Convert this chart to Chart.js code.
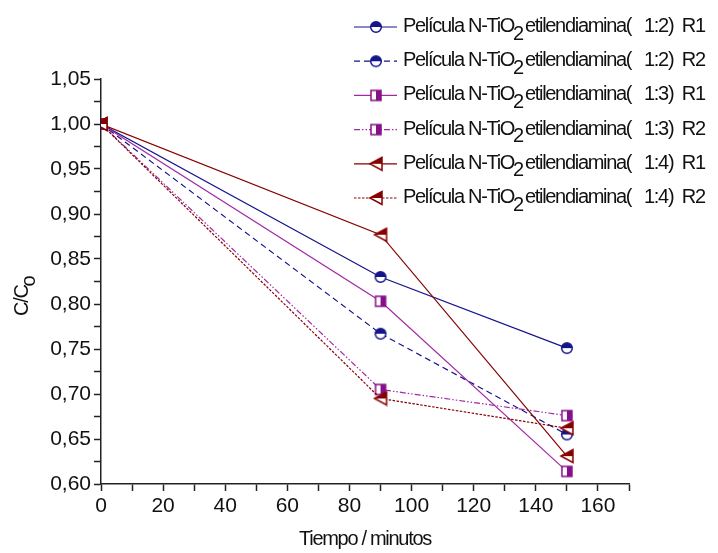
<!DOCTYPE html>
<html>
<head>
<meta charset="utf-8">
<script src="https://cdn.jsdelivr.net/npm/chart.js@4/dist/chart.umd.min.js"></script>
<style>
  body { margin: 0; background: #fff; }
</style>
</head>
<body>
<canvas id="myChart" width="718" height="553"></canvas>
<script>
// tiempo (minutos) y C/Co para cada película
var tiempo = [0, 90, 150];
var r12_R1 = [1.000, 0.830, 0.751];
var r12_R2 = [1.000, 0.767, 0.655];
var r13_R1 = [1.000, 0.803, 0.614];
var r13_R2 = [1.000, 0.705, 0.676];
var r14_R1 = [1.000, 0.877, 0.631];
var r14_R2 = [1.000, 0.695, 0.662];

var ratios = ['1:2', '1:2', '1:3', '1:3', '1:4', '1:4'];
var runs = ['R1', 'R2', 'R1', 'R2', 'R1', 'R2'];

var FONT = "'Liberation Sans', Arial, sans-serif";
var blue = '#14148c';
var purple = '#86108a';
var purpleLine = '#a02aa4';
var wine = '#860000';

// little half-filled markers, drawn once into canvases
function makeMarker(kind, color) {
    var c = document.createElement('canvas');
    c.width = 16;
    c.height = 16;
    var g = c.getContext('2d');
    g.lineWidth = 1.5;
    g.strokeStyle = color;
    g.fillStyle = '#fff';
    if (kind === 'circle') {
        g.beginPath();
        g.arc(8, 8, 5.3, 0, Math.PI * 2);
        g.fill();
        g.fillStyle = color;
        g.beginPath();
        g.arc(8, 8, 5.3, Math.PI, 0);
        g.closePath();
        g.fill();
        g.beginPath();
        g.arc(8, 8, 5.3, 0, Math.PI * 2);
        g.stroke();
    } else if (kind === 'square') {
        g.fillRect(3, 3, 10, 10);
        g.fillStyle = color;
        g.fillRect(8, 3, 5, 10);
        g.strokeRect(3, 3, 10, 10);
    } else {
        g.beginPath();
        g.moveTo(2, 8); g.lineTo(14, 1.5); g.lineTo(14, 14.5); g.closePath();
        g.fill();
        g.fillStyle = color;
        g.beginPath();
        g.moveTo(2, 8); g.lineTo(14, 1.5); g.lineTo(14, 8); g.closePath();
        g.fill();
        g.beginPath();
        g.moveTo(2, 8); g.lineTo(14, 1.5); g.lineTo(14, 14.5); g.closePath();
        g.stroke();
    }
    return c;
}

var mCircle = makeMarker('circle', blue);
var mSquare = makeMarker('square', purple);
var mTri = makeMarker('tri', wine);

function series(vals) {
    return tiempo.map(function (t, i) { return { x: t, y: vals[i] }; });
}

var dsList = [
    { data: series(r12_R1), color: blue, marker: mCircle, dash: [] },
    { data: series(r12_R2), color: blue, marker: mCircle, dash: [6, 4] },
    { data: series(r13_R1), color: purpleLine, marker: mSquare, dash: [] },
    { data: series(r13_R2), color: purpleLine, marker: mSquare, dash: [6, 2, 1.5, 2, 1.5, 2] },
    { data: series(r14_R1), color: wine, marker: mTri, dash: [] },
    { data: series(r14_R2), color: wine, marker: mTri, dash: [2.5, 1.5] }
];

var datasets = dsList.map(function (d, i) {
    return {
        data: d.data,
        borderColor: d.color,
        backgroundColor: d.color,
        borderWidth: 1.2,
        borderDash: d.dash,
        pointStyle: d.marker,
        pointRadius: 6,
        tension: 0,
        clip: 0,
        order: 5 - i
    };
});

// legend + axis titles with the subscripts
var textPlugin = {
    id: 'textPlugin',
    afterDraw: function (chart) {
        var ctx = chart.ctx;
        ctx.save();
        ctx.fillStyle = '#111';
        ctx.font = '20px ' + FONT;
        ctx.letterSpacing = '-1.3px';
        ctx.textBaseline = 'alphabetic';

        for (var i = 0; i < dsList.length; i++) {
            var y = 27 + i * 34.2;
            ctx.save();
            ctx.strokeStyle = dsList[i].color;
            ctx.lineWidth = 1.2;
            ctx.setLineDash(dsList[i].dash);
            ctx.beginPath();
            ctx.moveTo(354, y);
            ctx.lineTo(397, y);
            ctx.stroke();
            ctx.restore();
            ctx.drawImage(dsList[i].marker, 376 - 8, y - 8);

            var x = 403;
            var by = y + 5;
            var p1 = 'Película N-TiO';
            ctx.fillText(p1, x, by);
            x += ctx.measureText(p1).width;
            ctx.fillText('2', x - 1, by + 7.5);
            x += ctx.measureText('2').width + 1;
            ctx.fillText('etilendiamina(   ' + ratios[i] + ')  ' + runs[i], x, by);
        }

        // x title
        ctx.textAlign = 'center';
        ctx.fillText('Tiempo / minutos', 365, 545);

        // y title, rotated
        ctx.translate(28, 316);
        ctx.rotate(-Math.PI / 2);
        ctx.textAlign = 'left';
        ctx.fillText('C/C', 0, 0);
        var w = ctx.measureText('C/C').width;
        ctx.fillText('o', w - 1, 7);
        ctx.restore();
    }
};

var ctx = document.getElementById('myChart');
var chart = new Chart(ctx, {
    type: 'line',
    data: { datasets: datasets },
    options: {
        responsive: false,
        animation: false,
        layout: { padding: { top: 79, right: 89, left: 0, bottom: 0 } },
        plugins: {
            legend: { display: false },
            tooltip: { enabled: false }
        },
        scales: {
            x: {
                type: 'linear',
                min: 0,
                max: 170,
                afterFit: function (s) { s.height = 69; },
                border: { color: '#222', width: 1.5 },
                grid: { drawOnChartArea: false, tickLength: 7, tickColor: '#222', tickWidth: 1.5 },
                ticks: {
                    stepSize: 10,
                    autoSkip: false,
                    maxRotation: 0,
                    padding: 3,
                    color: '#111',
                    font: { family: FONT, size: 21 },
                    callback: function (v) { return v % 20 === 0 ? String(v) : ''; }
                }
            },
            y: {
                min: 0.6,
                max: 1.05,
                afterFit: function (s) { s.width = 101; },
                border: { color: '#222', width: 1.5 },
                grid: { drawOnChartArea: false, tickLength: 7, tickColor: '#222', tickWidth: 1.5 },
                ticks: {
                    stepSize: 0.025,
                    autoSkip: false,
                    padding: 3,
                    color: '#111',
                    font: { family: FONT, size: 21 },
                    callback: function (v) {
                        var k = Math.round(v * 1000);
                        return k % 50 === 0 ? (k / 1000).toFixed(2).replace('.', ',') : '';
                    }
                }
            }
        }
    },
    plugins: [textPlugin]
});
</script>
</body>
</html>
